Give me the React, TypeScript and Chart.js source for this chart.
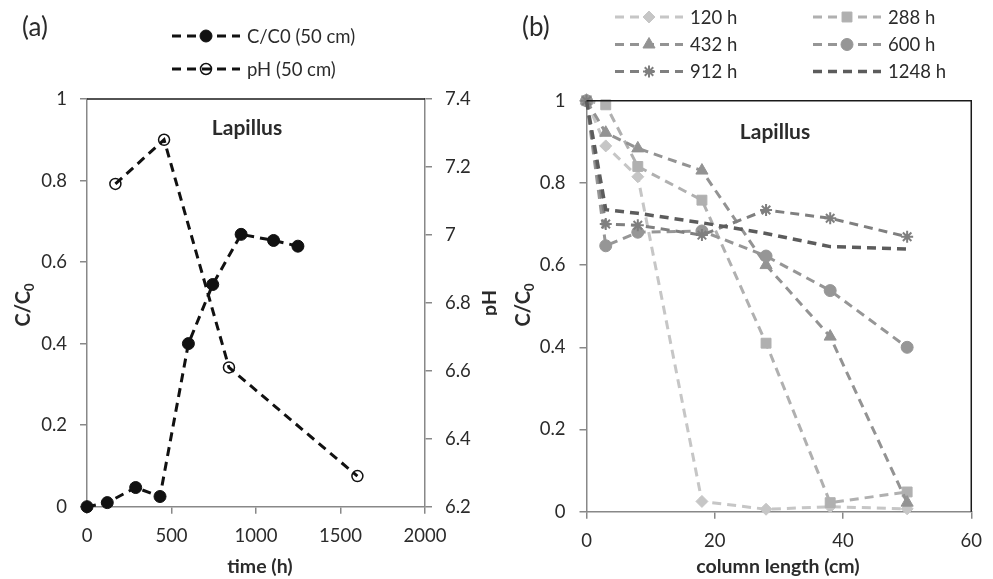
import React, { useEffect, useRef } from 'react';
import { Chart, registerables } from 'chart.js';
import { drawPoint } from 'chart.js/helpers';

Chart.register(...registerables);

// ---------- DATA (a) ----------
const timeCC0 = [0, 120, 288, 432, 600, 744, 912, 1104, 1248];
const valuesCC0 = [0, 0.01, 0.047, 0.025, 0.4, 0.545, 0.668, 0.653, 0.639];
const timePH = [168, 456, 840, 1600];
const valuesPH = [7.15, 7.28, 6.61, 6.29];
const legendA = ['C/C0 (50 cm)', 'pH (50 cm)'];

// ---------- DATA (b) ----------
const columnLength = [0, 3, 8, 18, 28, 38, 50];
const seriesLabelsB = ['120 h', '288 h', '432 h', '600 h', '912 h', '1248 h'];
const c120 = [1, 0.89, 0.815, 0.025, 0.006, 0.012, 0.007];
const c288 = [1, 0.99, 0.84, 0.758, 0.41, 0.022, 0.048];
const c432 = [1, 0.922, 0.884, 0.83, 0.6, 0.426, 0.022];
const c600 = [1, 0.647, 0.68, 0.683, 0.622, 0.538, 0.4];
const c912 = [1, 0.7, 0.697, 0.673, 0.734, 0.714, 0.669];
const c1248 = [1, 0.735, 0.726, 0.703, 0.677, 0.645, 0.639];
const seriesValuesB = [c120, c288, c432, c600, c912, c1248];

const seriesColorsB = ['#c6c6c6', '#b0b0b0', '#939393', '#969696', '#7f7f7f', '#5c5c5c'];
const seriesStylesB = ['rectRot', 'rect', 'triangle', 'circle', 'star', false];
const seriesRadiiB = [6, 7, 7, 6, 6, 0];

const FONT = "Lato, 'Open Sans', sans-serif";
const TEXT = '#2b2b2b';
const AXIS = '#888888';
const DASH = [9, 6];

const fmt = (v: number) => String(parseFloat(Number(v).toFixed(1)));

function drawLegendItem(ctx: CanvasRenderingContext2D, ds: any, x0: number, x1: number, y: number, tx: number, label: string) {
  ctx.save();
  ctx.strokeStyle = ds.borderColor;
  ctx.lineWidth = ds.borderWidth;
  ctx.setLineDash(ds.borderDash || []);
  ctx.beginPath();
  ctx.moveTo(x0, y);
  ctx.lineTo(x1, y);
  ctx.stroke();
  ctx.setLineDash([]);
  if (ds.pointStyle && ds.pointRadius > 0) {
    ctx.fillStyle = ds.pointBackgroundColor;
    ctx.strokeStyle = ds.pointBorderColor;
    ctx.lineWidth = ds.pointBorderWidth;
    drawPoint(ctx, { pointStyle: ds.pointStyle, rotation: 0, radius: ds.pointRadius, borderWidth: ds.pointBorderWidth } as any, (x0 + x1) / 2, y);
  }
  ctx.fillStyle = TEXT;
  ctx.font = `18.5px ${FONT}`;
  ctx.textAlign = 'left';
  ctx.textBaseline = 'middle';
  ctx.fillText(label, tx, y + 1);
  ctx.restore();
}

function drawRotatedCC0(ctx: CanvasRenderingContext2D, x: number, y: number) {
  ctx.save();
  ctx.translate(x, y);
  ctx.rotate(-Math.PI / 2);
  ctx.fillStyle = TEXT;
  ctx.textBaseline = 'alphabetic';
  ctx.textAlign = 'left';
  ctx.font = `bold 20px ${FONT}`;
  const w1 = ctx.measureText('C/C').width;
  ctx.font = `bold 13px ${FONT}`;
  const w2 = ctx.measureText('0').width;
  const sx = -(w1 + w2) / 2;
  ctx.font = `bold 20px ${FONT}`;
  ctx.fillText('C/C', sx, 7);
  ctx.font = `bold 13px ${FONT}`;
  ctx.fillText('0', sx + w1, 11);
  ctx.restore();
}

function text(ctx: CanvasRenderingContext2D, s: string, x: number, y: number, font: string, align: CanvasTextAlign = 'center') {
  ctx.save();
  ctx.fillStyle = TEXT;
  ctx.font = font;
  ctx.textAlign = align;
  ctx.textBaseline = 'middle';
  ctx.fillText(s, x, y);
  ctx.restore();
}

const tickFont = { family: FONT, size: 18.5 };

function ChartA() {
  const ref = useRef<HTMLCanvasElement>(null);
  useEffect(() => {
    const ctx = ref.current!;
    const decor = {
      id: 'decorA',
      afterDraw(chart: any) {
        const c = chart.ctx as CanvasRenderingContext2D;
        const a = chart.chartArea;
        c.save();
        c.strokeStyle = '#1a1a1a';
        c.lineWidth = 1.5;
        c.beginPath();
        c.moveTo(a.left, a.top);
        c.lineTo(a.right, a.top);
        c.stroke();
        c.restore();
        text(c, '(a)', 22, 28, `26px ${FONT}`, 'left');
        text(c, 'Lapillus', 247, 128, `bold 21px ${FONT}`);
        text(c, 'time (h)', 260, 567, `bold 19.5px ${FONT}`);
        drawRotatedCC0(c, 23, 305);
        c.save();
        c.translate(490, 303);
        c.rotate(-Math.PI / 2);
        text(c, 'pH', 0, 0, `bold 19.5px ${FONT}`);
        c.restore();
        const ds = chart.data.datasets;
        drawLegendItem(c, ds[0], 172, 240, 36, 247, legendA[0]);
        drawLegendItem(c, ds[1], 172, 240, 69, 247, legendA[1]);
      },
    };
    const chart = new Chart(ctx, {
      type: 'line',
      data: {
        datasets: [
          {
            label: legendA[0],
            data: timeCC0.map((t, i) => ({ x: t, y: valuesCC0[i] })),
            yAxisID: 'y',
            borderColor: '#111',
            borderWidth: 3,
            borderDash: DASH,
            pointStyle: 'circle',
            pointRadius: 6,
            pointBackgroundColor: '#111',
            pointBorderColor: '#111',
            pointBorderWidth: 1,
            tension: 0,
            clip: false,
          } as any,
          {
            label: legendA[1],
            data: timePH.map((t, i) => ({ x: t, y: valuesPH[i] })),
            yAxisID: 'y1',
            borderColor: '#111',
            borderWidth: 3,
            borderDash: DASH,
            pointStyle: 'circle',
            pointRadius: 5.5,
            pointBackgroundColor: 'rgba(0,0,0,0)',
            pointBorderColor: '#111',
            pointBorderWidth: 1.5,
            tension: 0,
            clip: false,
          } as any,
        ],
      },
      options: {
        responsive: false,
        animation: false,
        devicePixelRatio: 1,
        layout: { padding: { top: 99, left: 0, right: 0, bottom: 0 } },
        plugins: { legend: { display: false }, tooltip: { enabled: false } },
        scales: {
          x: {
            type: 'linear',
            min: 0,
            max: 2000,
            ticks: { stepSize: 500, font: tickFont, color: TEXT, padding: 11, maxRotation: 0, callback: (v: any) => String(v) },
            grid: { drawOnChartArea: false, drawTicks: true, tickLength: 7, color: AXIS, lineWidth: 1.5 },
            border: { display: true, color: AXIS, width: 1.5 },
            afterFit: (s: any) => { s.height = 72.3; },
          },
          y: {
            type: 'linear',
            position: 'left',
            min: 0,
            max: 1,
            ticks: { stepSize: 0.2, font: tickFont, color: TEXT, padding: 13, callback: (v: any) => fmt(v) },
            grid: { drawOnChartArea: false, drawTicks: true, tickLength: 7, color: AXIS, lineWidth: 1.5 },
            border: { display: true, color: AXIS, width: 1.5 },
            afterFit: (s: any) => { s.width = 87; },
          },
          y1: {
            type: 'linear',
            position: 'right',
            min: 6.2,
            max: 7.4,
            ticks: { stepSize: 0.2, font: tickFont, color: TEXT, padding: 13, callback: (v: any) => fmt(v) },
            grid: { drawOnChartArea: false, drawTicks: true, tickLength: 7, color: AXIS, lineWidth: 1.5 },
            border: { display: true, color: AXIS, width: 1.5 },
            afterFit: (s: any) => { s.width = 72; },
          },
        },
      } as any,
      plugins: [decor],
    });
    return () => chart.destroy();
  }, []);
  return <canvas ref={ref} width={497} height={579} style={{ position: 'absolute', left: 0, top: 0 }} />;
}

function ChartB() {
  const ref = useRef<HTMLCanvasElement>(null);
  useEffect(() => {
    const ctx = ref.current!;
    const decor = {
      id: 'decorB',
      afterDraw(chart: any) {
        const c = chart.ctx as CanvasRenderingContext2D;
        const a = chart.chartArea;
        c.save();
        c.strokeStyle = '#1a1a1a';
        c.lineWidth = 1.5;
        c.beginPath();
        c.moveTo(a.left, a.top);
        c.lineTo(a.right, a.top);
        c.lineTo(a.right, a.bottom);
        c.stroke();
        c.restore();
        text(c, '(b)', 25, 28, `26px ${FONT}`, 'left');
        text(c, 'Lapillus', 278, 132, `bold 21px ${FONT}`);
        text(c, 'column length (cm)', 281, 567, `bold 19.5px ${FONT}`);
        drawRotatedCC0(c, 26, 305);
        const ds = chart.data.datasets;
        const rows = [17, 44.5, 71.5];
        ds.forEach((d: any, i: number) => {
          const col = i % 2;
          const row = Math.floor(i / 2);
          const x0 = col === 0 ? 118 : 316;
          drawLegendItem(c, d, x0, x0 + 68, rows[row], x0 + 75, seriesLabelsB[i]);
        });
      },
    };
    const chart = new Chart(ctx, {
      type: 'line',
      data: {
        datasets: seriesValuesB.map((vals, i) => ({
          label: seriesLabelsB[i],
          data: columnLength.map((x, j) => ({ x, y: vals[j] })),
          borderColor: seriesColorsB[i],
          borderWidth: i === 5 ? 3.5 : 3,
          borderDash: DASH,
          pointStyle: seriesStylesB[i],
          pointRadius: seriesRadiiB[i],
          pointBackgroundColor: seriesColorsB[i],
          pointBorderColor: seriesColorsB[i],
          pointBorderWidth: seriesStylesB[i] === 'star' ? 2 : 1,
          tension: 0,
          clip: false,
          order: seriesValuesB.length - i,
        })) as any,
      },
      options: {
        responsive: false,
        animation: false,
        devicePixelRatio: 1,
        layout: { padding: { top: 100.7, left: 0, right: 11.7, bottom: 0 } },
        plugins: { legend: { display: false }, tooltip: { enabled: false } },
        scales: {
          x: {
            type: 'linear',
            min: 0,
            max: 60,
            ticks: { stepSize: 20, font: tickFont, color: TEXT, padding: 11, maxRotation: 0, callback: (v: any) => String(v) },
            grid: { drawOnChartArea: false, drawTicks: true, tickLength: 7, color: AXIS, lineWidth: 1.5 },
            border: { display: true, color: AXIS, width: 1.5 },
            afterFit: (s: any) => { s.height = 67.3; },
          },
          y: {
            type: 'linear',
            position: 'left',
            min: 0,
            max: 1,
            ticks: { stepSize: 0.2, font: tickFont, color: TEXT, padding: 14, callback: (v: any) => fmt(v) },
            grid: { drawOnChartArea: false, drawTicks: true, tickLength: 7, color: AXIS, lineWidth: 1.5 },
            border: { display: true, color: AXIS, width: 1.5 },
            afterFit: (s: any) => { s.width = 89.5; },
          },
        },
      } as any,
      plugins: [decor],
    });
    return () => chart.destroy();
  }, []);
  return <canvas ref={ref} width={496} height={579} style={{ position: 'absolute', left: 497, top: 0 }} />;
}

export default function App() {
  return (
    <div style={{ position: 'absolute', left: 0, top: 0, width: 993, height: 579, background: '#fff', overflow: 'hidden' }}>
      <ChartA />
      <ChartB />
    </div>
  );
}
